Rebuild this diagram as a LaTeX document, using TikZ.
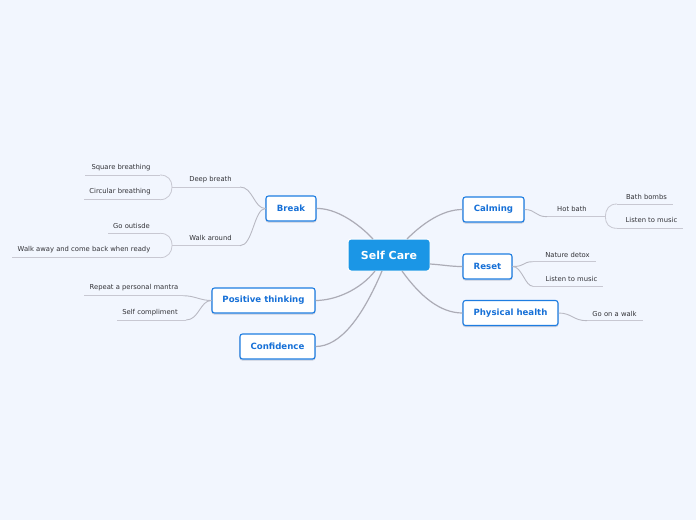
\documentclass[tikz,border=0pt]{standalone}
\usepackage{fontspec}
\setmainfont{DejaVu Sans}
\begin{document}
\begin{tikzpicture}[x=1pt,y=-1pt,
  central/.style={draw=white,line width=1pt,fill=centralblue,rounded corners=3pt,text=white,font=\bfseries\fontsize{11}{12}\selectfont,minimum height=32pt,inner sep=0pt},
  topic/.style={draw=topicblue,line width=1.1pt,fill=white,rounded corners=2.5pt,text=topictext,font=\bfseries\fontsize{8.6}{10}\selectfont,minimum height=25pt,inner sep=0pt},
  leaf/.style={text=leaftext,font=\fontsize{6.8}{8}\selectfont,inner sep=0pt},
  mainlink/.style={draw=linkgray,line width=1.2pt},
  sublink/.style={draw=sublinkgray,line width=0.9pt},
  uline/.style={draw=ulinegray,line width=0.8pt}]
\definecolor{bg}{RGB}{242,246,254}
\definecolor{centralblue}{RGB}{27,150,230}
\definecolor{topicblue}{RGB}{30,125,225}
\definecolor{topictext}{RGB}{22,112,215}
\definecolor{leaftext}{RGB}{50,50,55}
\definecolor{linkgray}{RGB}{172,172,182}
\definecolor{sublinkgray}{RGB}{185,185,195}
\definecolor{ulinegray}{RGB}{200,200,210}
\definecolor{shadowgray}{RGB}{200,205,220}
\fill[bg] (0,0) rectangle (696,520);
\useasboundingbox (0,0) rectangle (696,520);

% central
\node[central,minimum width=82pt] (sc) at (389,255) {Self Care};
% topics
\begin{scope}[every node/.append style={preaction={draw=shadowgray,line width=1.2pt,transform canvas={yshift=-1pt}}}]
\node[topic,minimum width=50pt] (brk) at (291,208.5) {Break};
\node[topic,minimum width=61pt] (calm) at (493.5,209.5) {Calming};
\node[topic,minimum width=49pt] (reset) at (487.5,266.5) {Reset};
\node[topic,minimum width=95pt] (phys) at (510.5,313) {Physical health};
\node[topic,minimum width=103pt] (pos) at (263.5,300.5) {Positive thinking};
\node[topic,minimum width=75pt] (conf) at (277.5,346.5) {Confidence};
\end{scope}

% central connectors
\coordinate (s1) at (373,239);
\coordinate (s2) at (407,239);
\coordinate (s3) at (430,264);
\coordinate (s4) at (402,271);
\coordinate (s5) at (375,271);
\coordinate (s6) at (382,271);
\draw[mainlink] (s1) .. controls (357,222) and (335,208) .. (brk.east);
\draw[mainlink] (s2) .. controls (422,224) and (442,209.5) .. (calm.west);
\draw[mainlink] (s3) .. controls (445,265) and (450,266.5) .. (reset.west);
\draw[mainlink] (s4) .. controls (420,296) and (440,313) .. (phys.west);
\draw[mainlink] (s5) .. controls (360,290) and (335,300.5) .. (pos.east);
\draw[mainlink] (s6) .. controls (362,318) and (340,346.5) .. (conf.east);

% Break subtree
\node[leaf] (deep) at (210.5,179.5) {Deep breath};
\coordinate (deepL) at (172,187);
\coordinate (deepR) at (240,187);
\draw[uline] (deepL) -- (deepR);
\draw[sublink] (brk.west) .. controls (254,208.5) and (253,187) .. (deepR);

\node[leaf] (walk) at (210.5,237.5) {Walk around};
\coordinate (walkL) at (172,245.7);
\coordinate (walkR) at (240,245.7);
\draw[uline] (walkL) -- (walkR);
\draw[sublink] (brk.west) .. controls (254,208.5) and (253,245.7) .. (walkR);

\node[leaf] (sq) at (121,167.5) {Square breathing};
\coordinate (sqL) at (85,175);
\coordinate (sqR) at (160,175);
\draw[uline] (sqL) -- (sqR);
\draw[uline] (sqR) .. controls (168,175) and (172,180) .. (deepL);

\node[leaf] (circ) at (120,191.5) {Circular breathing};
\coordinate (circL) at (84,199.7);
\coordinate (circR) at (160,199.7);
\draw[uline] (circL) -- (circR);
\draw[uline] (circR) .. controls (168,199.7) and (172,194) .. (deepL);

\node[leaf] (out) at (131.5,225.5) {Go outisde};
\coordinate (outL) at (108,233.3);
\coordinate (outR) at (160,233.3);
\draw[uline] (outL) -- (outR);
\draw[uline] (outR) .. controls (168,233.3) and (172,238) .. (walkL);

\node[leaf] (away) at (84,249.5) {Walk away and come back when ready};
\coordinate (awayL) at (12,257.7);
\coordinate (awayR) at (160,257.7);
\draw[uline] (awayL) -- (awayR);
\draw[uline] (awayR) .. controls (168,257.7) and (172,252) .. (walkL);

% Positive thinking subtree
\node[leaf] (mantra) at (134,288) {Repeat a personal mantra};
\coordinate (mantraL) at (84,295.7);
\coordinate (mantraR) at (183,295.7);
\draw[uline] (mantraL) -- (mantraR);
\draw[sublink] (pos.west) .. controls (200,300.5) and (195,295.7) .. (mantraR);

\node[leaf] (compl) at (150,312.5) {Self compliment};
\coordinate (complL) at (117,320);
\coordinate (complR) at (186,320);
\draw[uline] (complL) -- (complR);
\draw[sublink] (pos.west) .. controls (200,300.5) and (199,320) .. (complR);

% Calming subtree
\node[leaf] (hot) at (572,208.5) {Hot bath};
\coordinate (hotL) at (547,216.7);
\coordinate (hotR) at (605.5,216.7);
\draw[uline] (hotL) -- (hotR);
\draw[sublink] (calm.east) .. controls (536,209.5) and (535,216.7) .. (hotL);

\node[leaf] (bomb) at (646.5,196.5) {Bath bombs};
\coordinate (bombL) at (617,204);
\coordinate (bombR) at (673,204);
\draw[uline] (bombL) -- (bombR);
\draw[uline] (hotR) .. controls (605.5,209) and (609,204) .. (bombL);

\node[leaf] (music1) at (651.5,220.3) {Listen to music};
\coordinate (music1L) at (617,228.3);
\coordinate (music1R) at (683,228.3);
\draw[uline] (music1L) -- (music1R);
\draw[uline] (hotR) .. controls (605.5,224) and (609,228.3) .. (music1L);

% Reset subtree
\node[leaf] (nat) at (567.5,254.5) {Nature detox};
\coordinate (natL) at (533,261.7);
\coordinate (natR) at (595.5,261.7);
\draw[uline] (natL) -- (natR);
\draw[sublink] (reset.east) .. controls (526,266.5) and (522,261.7) .. (natL);

\node[leaf] (music2) at (571.5,278.5) {Listen to music};
\coordinate (music2L) at (533,286.3);
\coordinate (music2R) at (603,286.3);
\draw[uline] (music2L) -- (music2R);
\draw[sublink] (reset.east) .. controls (522,266.5) and (525,286.3) .. (music2L);

% Physical health subtree
\node[leaf] (gowalk) at (614.5,313.7) {Go on a walk};
\coordinate (gowalkL) at (587,320.7);
\coordinate (gowalkR) at (642.7,320.7);
\draw[uline] (gowalkL) -- (gowalkR);
\draw[sublink] (phys.east) .. controls (572,313) and (573,320.7) .. (gowalkL);
\end{tikzpicture}
\end{document}
